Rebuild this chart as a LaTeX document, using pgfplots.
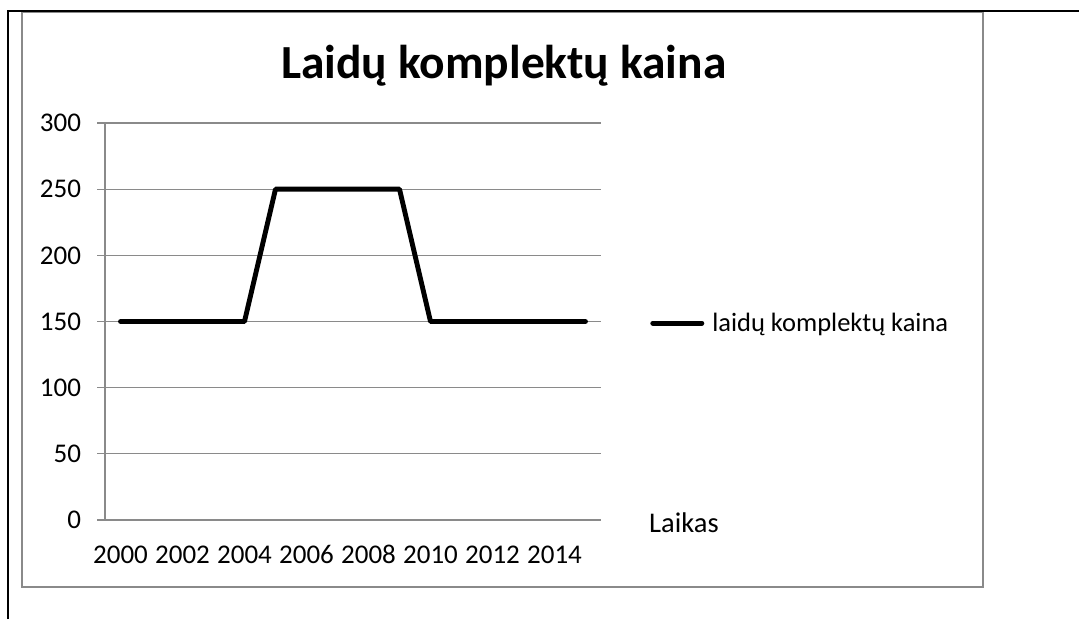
\documentclass[border=0pt]{standalone}
\usepackage{fontspec}
\setmainfont{Carlito}
\usepackage{pgfplots}
\pgfplotsset{compat=1.18}
\definecolor{axgray}{HTML}{8A8A8A}
\newcommand{\tf}{\fontsize{27}{31}\selectfont}
\begin{document}
\begin{tikzpicture}[x=1pt,y=1pt]
\useasboundingbox (0,0) rectangle (1079,619);
% outer frame
\draw[black, line width=2.2pt] (8,0) -- (8,608) -- (1079,608);
\draw[axgray, line width=1.4pt] (22,32) rectangle (983,606.5);
\begin{axis}[
  at={(105pt,99pt)}, anchor=south west,
  scale only axis, width=496pt, height=397pt,
  xmin=-0.5, xmax=15.5, ymin=0, ymax=300,
  axis x line*=bottom, axis y line*=left,
  axis line style={axgray, line width=1.3pt},
  every tick/.style={axgray, line width=1.3pt},
  tick align=outside,
  major tick length=8pt, minor tick length=8pt,
  xtick={0,2,...,14},
  xticklabels={2000,2002,2004,2006,2008,2010,2012,2014},
  x tick style={draw=none},
  minor xtick={-0.5,0.5,...,15.5},
  ytick={0,50,...,300},
  yticklabels={0,50,100,150,200,250,300},
  ymajorgrids,
  y grid style={axgray, line width=1.3pt},
  xticklabel style={font=\tf, text=black, anchor=north, yshift=-14pt},
  yticklabel style={font=\tf, text=black, anchor=east, xshift=-12.5pt},
  title={\textbf{Laidų komplektų kaina}},
  title style={at={(0.804,1.098)}, anchor=base, inner sep=0pt, font=\fontsize{47.5}{56}\selectfont},
  xlabel={Laikas},
  xlabel style={at={(1.0968,-0.0327)}, anchor=base west, inner sep=0pt, font=\fontsize{28.5}{33}\selectfont},
  legend style={at={(1.099,0.496)}, anchor=west, draw=none, fill=none, inner sep=0pt,
    nodes={inner sep=0pt, font=\fontsize{26.5}{31}\selectfont}, column sep=8pt},
  legend cell align=left,
  legend image code/.code={\draw[#1] (2.4pt,0pt) -- (51.5pt,0pt);},
  clip=false,
]
\addplot[black, line width=4.9pt, line cap=round, line join=round] coordinates {
(0,150) (1,150) (2,150) (3,150) (4,150)
(5,250) (6,250) (7,250) (8,250) (9,250)
(10,150) (11,150) (12,150) (13,150) (14,150) (15,150)
};
\addlegendentry{laidų komplektų kaina}
\end{axis}
\end{tikzpicture}
\end{document}
